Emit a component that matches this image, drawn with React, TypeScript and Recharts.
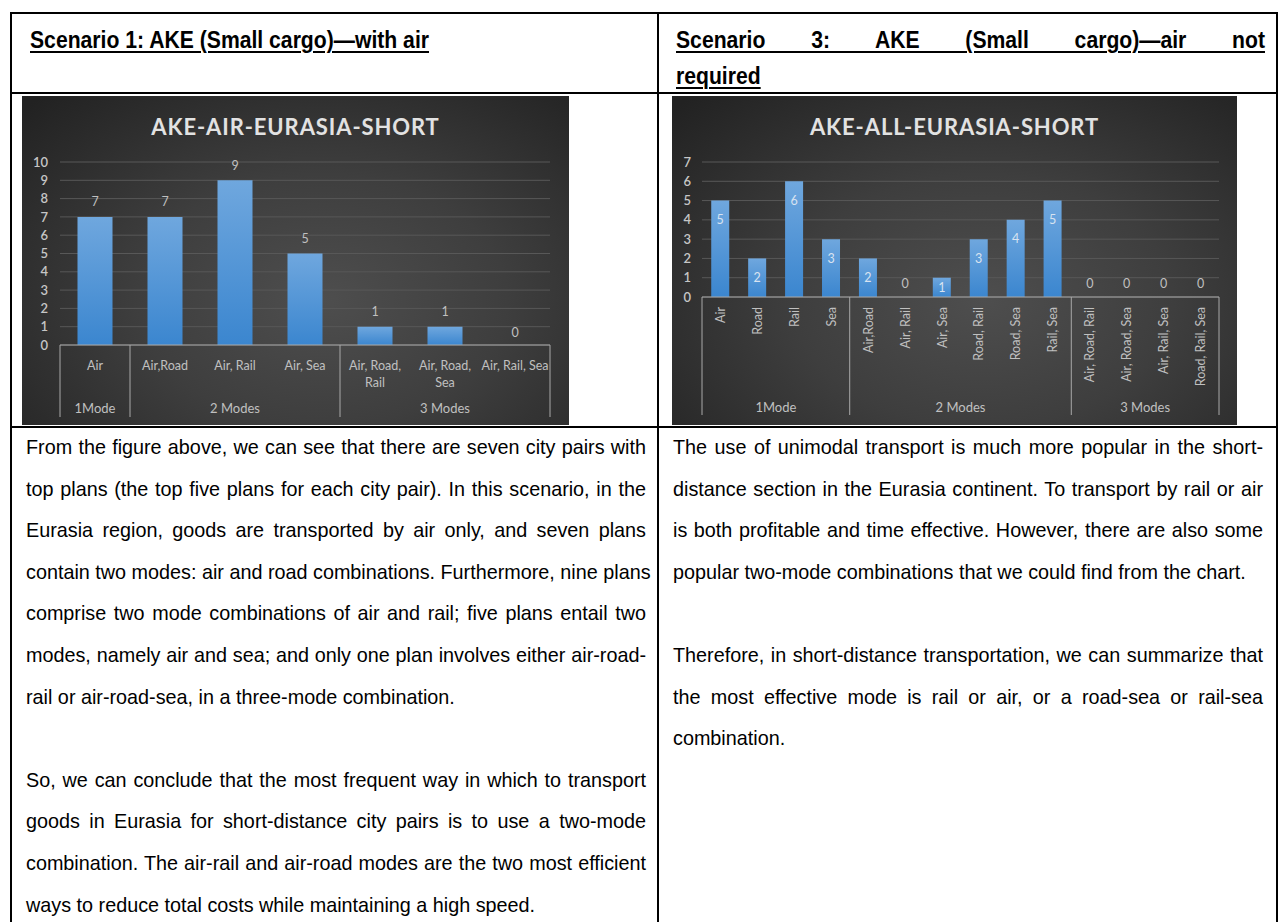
import React from "react";
import { BarChart, Bar, XAxis, YAxis, CartesianGrid, LabelList } from "recharts";

// ---------------- data ----------------
const leftTitle = "AKE-AIR-EURASIA-SHORT";
const leftCategories = ["Air", "Air,Road", "Air, Rail", "Air, Sea", "Air, Road,\nRail", "Air, Road,\nSea", "Air, Rail, Sea"];
const leftValues = [7, 7, 9, 5, 1, 1, 0];
const leftGroupLabels = ["1Mode", "2 Modes", "3 Modes"];
const leftGroupSizes = [1, 3, 3];
const leftYTicks = [0, 1, 2, 3, 4, 5, 6, 7, 8, 9, 10];

const rightTitle = "AKE-ALL-EURASIA-SHORT";
const rightCategories = [
  "Air", "Road", "Rail", "Sea",
  "Air,Road", "Air, Rail", "Air, Sea", "Road, Rail", "Road, Sea", "Rail, Sea",
  "Air, Road, Rail", "Air, Road, Sea", "Air, Rail, Sea", "Road, Rail, Sea",
];
const rightValues = [5, 2, 6, 3, 2, 0, 1, 3, 4, 5, 0, 0, 0, 0];
const rightGroupLabels = ["1Mode", "2 Modes", "3 Modes"];
const rightGroupSizes = [4, 6, 4];
const rightYTicks = [0, 1, 2, 3, 4, 5, 6, 7];

const leftHeader = "Scenario 1: AKE (Small cargo)\u2014with air";
const rightHeaderLine1 = "Scenario 3: AKE (Small cargo)\u2014air not";
const rightHeaderLine2 = "required";

const leftBodyLines = [
  "From the figure above, we can see that there are seven city pairs with",
  "top plans (the top five plans for each city pair). In this scenario, in the",
  "Eurasia region, goods are transported by air only, and seven plans",
  "contain two modes: air and road combinations. Furthermore, nine plans",
  "comprise two mode combinations of air and rail; five plans entail two",
  "modes, namely air and sea; and only one plan involves either air-road-",
  "rail or air-road-sea, in a three-mode combination.",
  "",
  "So, we can conclude that the most frequent way in which to transport",
  "goods in Eurasia for short-distance city pairs is to use a two-mode",
  "combination. The air-rail and air-road modes are the two most efficient",
  "ways to reduce total costs while maintaining a high speed.",
];
const leftBodyLastLines = [6, 11];

const rightBodyLines = [
  "The use of unimodal transport is much more popular in the short-",
  "distance section in the Eurasia continent. To transport by rail or air",
  "is both profitable and time effective. However, there are also some",
  "popular two-mode combinations that we could find from the chart.",
  "",
  "Therefore, in short-distance transportation, we can summarize that",
  "the most effective mode is rail or air, or a road-sea or rail-sea",
  "combination.",
];
const rightBodyLastLines = [3, 7];

// ---------------- styles ----------------
const CHART_FONT = "Lato, 'Open Sans', sans-serif";
const TEXT_FONT = "'Liberation Sans', Arial, sans-serif";
const AXIS_COLOR = "#a9a9a9";
const LABEL_COLOR = "#c0c0c0";
const GRID_COLOR = "#585858";
const CAT_FONT = 12.5;

type ChartCfg = {
  title: string;
  categories: string[];
  values: number[];
  groupLabels: string[];
  groupSizes: number[];
  yTicks: number[];
  width: number;
  height: number;
  yAxisWidth: number;
  marginRight: number;
  marginTop: number;
  xAxisHeight: number;
  rotate: boolean;
  boxDepth: number;
  groupLabelDy: number;
  inside: boolean;
  gradId: string;
};

function makeTick(cfg: ChartCfg) {
  const n = cfg.categories.length;
  const plotW = cfg.width - cfg.yAxisWidth - cfg.marginRight;
  const band = plotW / n;
  const starts: number[] = [];
  let acc = 0;
  cfg.groupSizes.forEach((s) => {
    starts.push(acc);
    acc += s;
  });
  return function Tick(props: any) {
    const { x, y, payload } = props;
    const i: number = props.index ?? payload.index;
    const label = String(payload.value);
    const els: any[] = [];
    if (cfg.rotate) {
      const ay = y + 10;
      els.push(
        <text
          key="c"
          x={x}
          y={ay}
          transform={`rotate(-90 ${x} ${ay})`}
          textAnchor="end"
          dominantBaseline="central"
          fill={LABEL_COLOR}
          fontSize={CAT_FONT}
          fontFamily={CHART_FONT}
        >
          {label}
        </text>
      );
    } else {
      const lines = label.split("\n");
      els.push(
        <text key="c" x={x} y={y + 20} textAnchor="middle" dominantBaseline="central" fill={LABEL_COLOR} fontSize={CAT_FONT} fontFamily={CHART_FONT}>
          {lines.map((l, k) => (
            <tspan key={k} x={x} dy={k === 0 ? 0 : 17}>
              {l}
            </tspan>
          ))}
        </text>
      );
    }
    // value label for zero-height bars (drawn just above the baseline)
    if (cfg.values[i] === 0) {
      els.push(
        <text
          key="z"
          x={x}
          y={y - (cfg.inside ? 14 : 13)}
          textAnchor="middle"
          dominantBaseline="central"
          fill={LABEL_COLOR}
          fontSize={12.5}
          fontFamily={CHART_FONT}
        >
          {cfg.values[i]}
        </text>
      );
    }
    const g = starts.indexOf(i);
    if (g >= 0) {
      const left = x - band / 2;
      els.push(<line key="gl" x1={left} x2={left} y1={y} y2={y + cfg.boxDepth} stroke={AXIS_COLOR} strokeWidth={1} />);
      els.push(
        <text
          key="gt"
          x={left + (cfg.groupSizes[g] * band) / 2}
          y={y + cfg.groupLabelDy}
          textAnchor="middle"
          dominantBaseline="central"
          fill={LABEL_COLOR}
          fontSize={13}
          fontFamily={CHART_FONT}
        >
          {cfg.groupLabels[g]}
        </text>
      );
    }
    if (i === n - 1) {
      const right = x + band / 2;
      els.push(<line key="gr" x1={right} x2={right} y1={y} y2={y + cfg.boxDepth} stroke={AXIS_COLOR} strokeWidth={1} />);
    }
    return <g>{els}</g>;
  };
}

function BarLabel(props: any, inside: boolean) {
  const { x, y, width, height, value } = props;
  if (!value) return null;
  const cx = x + width / 2;
  const cy = inside ? y + Math.min(19, height / 2) : y - 15;
  return (
    <text
      x={cx}
      y={cy}
      textAnchor="middle"
      dominantBaseline="central"
      fill={inside ? "#d8e3f1" : LABEL_COLOR}
      fontSize={12.5}
      fontFamily={CHART_FONT}
    >
      {value}
    </text>
  );
}

function ExcelChart({ cfg }: { cfg: ChartCfg }) {
  const data = cfg.categories.map((c, i) => ({ name: c, value: cfg.values[i] }));
  const Tick = makeTick(cfg);
  const yMax = cfg.yTicks[cfg.yTicks.length - 1];
  return (
    <div
      style={{
        position: "relative",
        width: cfg.width,
        height: cfg.height,
        background: "radial-gradient(ellipse 75% 85% at 55% 62%, #4e4e4e 0%, #3e3e3e 45%, #2c2c2c 80%, #222222 100%)",
      }}
    >
      <div
        style={{
          position: "absolute",
          left: 0,
          top: 17,
          width: cfg.width,
          textAlign: "center",
          fontFamily: CHART_FONT,
          fontWeight: 700,
          fontSize: 22,
          letterSpacing: 0.9,
          color: "#e2e2e2",
          lineHeight: "28px",
        }}
      >
        {cfg.title}
      </div>
      <BarChart
        width={cfg.width}
        height={cfg.height}
        data={data}
        margin={{ top: cfg.marginTop, right: cfg.marginRight, bottom: 0, left: 0 }}
        barCategoryGap="25%"
        style={{ position: "absolute", left: 0, top: 0 }}
      >
        <defs>
          <linearGradient id={cfg.gradId} x1="0" y1="0" x2="0" y2="1">
            <stop offset="0%" stopColor="#6fa7de" />
            <stop offset="100%" stopColor="#3b86cf" />
          </linearGradient>
        </defs>
        <CartesianGrid vertical={false} stroke={GRID_COLOR} strokeWidth={1} />
        <YAxis
          type="number"
          domain={[0, yMax]}
          ticks={cfg.yTicks}
          interval={0}
          width={cfg.yAxisWidth}
          axisLine={false}
          tickLine={false}
          tickSize={0}
          tickMargin={cfg.rotate ? 11 : 12}
          tick={{ fill: "#c6c6c6", fontSize: 13, fontWeight: 600, fontFamily: CHART_FONT }}
        />
        <XAxis
          dataKey="name"
          type="category"
          interval={0}
          height={cfg.xAxisHeight}
          axisLine={{ stroke: AXIS_COLOR, strokeWidth: 1 }}
          tickLine={false}
          tickSize={0}
          tickMargin={0}
          tick={<Tick />}
        />
        <Bar dataKey="value" fill={`url(#${cfg.gradId})`} isAnimationActive={false}>
          <LabelList dataKey="value" content={(p: any) => BarLabel(p, cfg.inside)} />
        </Bar>
      </BarChart>
    </div>
  );
}

const leftCfg: ChartCfg = {
  title: leftTitle,
  categories: leftCategories,
  values: leftValues,
  groupLabels: leftGroupLabels,
  groupSizes: leftGroupSizes,
  yTicks: leftYTicks,
  width: 547,
  height: 329,
  yAxisWidth: 38,
  marginRight: 19,
  marginTop: 66,
  xAxisHeight: 80,
  rotate: false,
  boxDepth: 72,
  groupLabelDy: 63,
  inside: false,
  gradId: "gradLeft",
};

const rightCfg: ChartCfg = {
  title: rightTitle,
  categories: rightCategories,
  values: rightValues,
  groupLabels: rightGroupLabels,
  groupSizes: rightGroupSizes,
  yTicks: rightYTicks,
  width: 565,
  height: 329,
  yAxisWidth: 30,
  marginRight: 18,
  marginTop: 66,
  xAxisHeight: 128,
  rotate: true,
  boxDepth: 118,
  groupLabelDy: 110,
  inside: true,
  gradId: "gradRight",
};

function Line({ x, y, w, h }: { x: number; y: number; w: number; h: number }) {
  return <div style={{ position: "absolute", left: x, top: y, width: w, height: h, background: "#000" }} />;
}

function BodyLines({ lines, lastLines, left, width }: { lines: string[]; lastLines: number[]; left: number; width: number }) {
  const LH = 24;
  return (
    <>
      {lines.map((t, i) =>
        t ? (
          <div
            key={i}
            style={{
              position: "absolute",
              left,
              width,
              top: 447 + i * 41.6 - LH / 2,
              lineHeight: `${LH}px`,
              fontFamily: TEXT_FONT,
              fontSize: 19.8,
              color: "#000",
              whiteSpace: "nowrap",
              textAlign: lastLines.includes(i) ? "left" : "justify",
              textAlignLast: lastLines.includes(i) ? "left" : "justify",
            }}
          >
            {t}
          </div>
        ) : null
      )}
    </>
  );
}

const HEADER_SCALE = 0.92;
const headerStyle: React.CSSProperties = {
  position: "absolute",
  fontFamily: TEXT_FONT,
  fontWeight: 700,
  fontSize: 23,
  lineHeight: "28px",
  color: "#000",
  textDecoration: "underline",
  textDecorationThickness: "2px",
  textUnderlineOffset: "3px",
  whiteSpace: "nowrap",
  transform: `scaleX(${HEADER_SCALE})`,
  transformOrigin: "0 0",
};

export default function App() {
  return (
    <div style={{ position: "absolute", left: 0, top: 0, width: 1279, height: 922, background: "#fff", overflow: "hidden" }}>
      {/* table borders */}
      <Line x={10} y={12} w={1268} h={2} />
      <Line x={10} y={92} w={1268} h={2} />
      <Line x={10} y={426} w={1268} h={2} />
      <Line x={10} y={12} w={2} h={910} />
      <Line x={657} y={12} w={2} h={910} />
      <Line x={1276} y={12} w={2} h={910} />

      {/* headers */}
      <div style={{ ...headerStyle, left: 30, top: 26 }}>{leftHeader}</div>
      <div
        style={{
          ...headerStyle,
          left: 676,
          top: 26,
          width: 589 / HEADER_SCALE,
          textAlign: "justify",
          textAlignLast: "justify",
        }}
      >
        {rightHeaderLine1}
      </div>
      <div style={{ ...headerStyle, left: 676, top: 62 }}>{rightHeaderLine2}</div>

      {/* charts */}
      <div style={{ position: "absolute", left: 22, top: 96 }}>
        <ExcelChart cfg={leftCfg} />
      </div>
      <div style={{ position: "absolute", left: 672, top: 96 }}>
        <ExcelChart cfg={rightCfg} />
      </div>

      {/* body text */}
      <BodyLines lines={leftBodyLines} lastLines={leftBodyLastLines} left={26} width={620} />
      <BodyLines lines={rightBodyLines} lastLines={rightBodyLastLines} left={673} width={590} />
    </div>
  );
}
